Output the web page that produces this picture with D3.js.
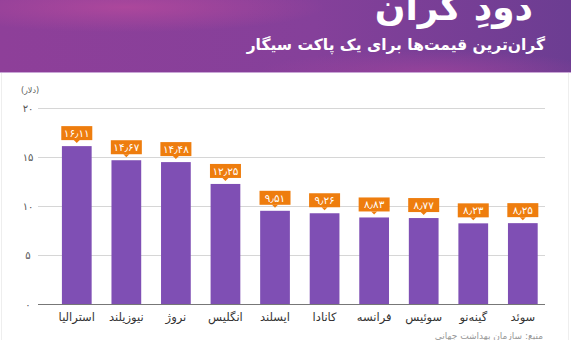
<!DOCTYPE html>
<html><head><meta charset="utf-8">
<script src="https://cdn.jsdelivr.net/npm/d3@7"></script>
<style>body{margin:0;background:#fff;}svg{display:block;font-family:"DejaVu Sans",sans-serif;}</style>
</head><body>
<svg id="c" width="571" height="340"></svg>
<script>
const categories = ["استرالیا","نیوزیلند","نروژ","انگلیس","ایسلند","کانادا","فرانسه","سوئیس","گینه‌نو","سوئد"];
const values = [16.11,14.67,14.48,12.25,9.51,9.26,8.83,8.77,8.23,8.25];
const yTicks = [0,5,10,15,20];
const title = "دودِ گران";
const subtitle = "گران‌ترین قیمت‌ها برای یک پاکت سیگار";
const unitLabel = "(دلار)";
const source = "منبع: سازمان بهداشت جهانی";

const fa = s => String(s).replace(/\d/g, d => "۰۱۲۳۴۵۶۷۸۹"[d]).replace(/\./g, "٫");
const svg = d3.select("#c");
const defs = svg.append("defs");
const lg = defs.append("linearGradient").attr("id","hg").attr("x1","0").attr("x2","1").attr("y1","0").attr("y2","0");
lg.append("stop").attr("offset","0").attr("stop-color","#8e3f99");
lg.append("stop").attr("offset","0.55").attr("stop-color","#85409a");
lg.append("stop").attr("offset","1").attr("stop-color","#6c3d92");
const rg = defs.append("radialGradient").attr("id","rh").attr("cx","0.22").attr("cy","0.1").attr("r","0.35");
rg.append("stop").attr("offset","0").attr("stop-color","#b0489c").attr("stop-opacity","0.9");
rg.append("stop").attr("offset","1").attr("stop-color","#b0489c").attr("stop-opacity","0");
const rg2 = defs.append("radialGradient").attr("id","rh2").attr("cx","0.75").attr("cy","1").attr("r","0.3");
rg2.append("stop").attr("offset","0").attr("stop-color","#a0449c").attr("stop-opacity","0.7");
rg2.append("stop").attr("offset","1").attr("stop-color","#a0449c").attr("stop-opacity","0");

svg.append("rect").attr("x",0).attr("y",0).attr("width",571).attr("height",72).attr("fill","url(#hg)");
svg.append("rect").attr("x",0).attr("y",0).attr("width",571).attr("height",72).attr("fill","url(#rh)");
svg.append("rect").attr("x",0).attr("y",0).attr("width",571).attr("height",72).attr("fill","url(#rh2)");
svg.append("line").attr("x1",0).attr("x2",571).attr("y1",72.5).attr("y2",72.5).attr("stroke","#c9a6d6").attr("stroke-width",1);

svg.append("text").attr("x",533).attr("y",20).attr("text-anchor","start").attr("direction","rtl")
  .attr("fill","#fff").attr("font-size",36).attr("font-weight","bold").text(title);
svg.append("text").attr("x",545).attr("y",50).attr("text-anchor","start").attr("direction","rtl")
  .attr("fill","#fff").attr("font-size",15.5).attr("font-weight","bold").text(subtitle);

// side borders
svg.append("line").attr("x1",1.5).attr("x2",1.5).attr("y1",73).attr("y2",340).attr("stroke","#eee");
svg.append("line").attr("x1",568.5).attr("x2",568.5).attr("y1",73).attr("y2",340).attr("stroke","#eee");

const y = d3.scaleLinear().domain([0,20]).range([304,108]);
const x = d3.scaleBand().domain(categories).range([52,547.6]).paddingInner(0.4).paddingOuter(0.2);

const grid = svg.append("g");
grid.selectAll("line").data(yTicks.filter(t=>t>0)).join("line")
  .attr("x1",38).attr("x2",545).attr("y1",d=>Math.round(y(d))+0.5).attr("y2",d=>Math.round(y(d))+0.5)
  .attr("stroke","#d6d6d6").attr("stroke-width",1);

const yAxis = d3.axisLeft(y).tickValues(yTicks).tickFormat(fa).tickSize(0);
const ya = svg.append("g").attr("transform","translate(33,0)").call(yAxis);
ya.select(".domain").remove();
ya.selectAll("text").attr("font-size",10).attr("fill","#555").attr("font-family","DejaVu Sans").attr("dx",0).attr("text-anchor","middle").attr("x",-5);

svg.append("text").attr("x",30).attr("y",93).attr("text-anchor","middle").attr("font-size",8).attr("fill","#555").text(unitLabel);

svg.append("g").selectAll("rect").data(values).join("rect")
  .attr("x",(d,i)=>x(categories[i])).attr("width",x.bandwidth())
  .attr("y",d=>y(d)).attr("height",d=>y(0)-y(d)).attr("fill","#7f4fb4");

svg.append("line").attr("x1",38).attr("x2",545).attr("y1",304.5).attr("y2",304.5).attr("stroke","#777").attr("stroke-width",1);

const lab = svg.append("g").selectAll("g").data(values).join("g")
  .attr("transform",(d,i)=>`translate(${x(categories[i])+x.bandwidth()/2},${y(d)-6})`);
lab.append("rect").attr("x",-15.5).attr("y",-14).attr("width",31).attr("height",14).attr("fill","#ee7d0e");
lab.append("path").attr("d","M-3,0 L3,0 L0,3 Z").attr("fill","#ee7d0e");
lab.append("text").attr("x",0).attr("y",-3).attr("text-anchor","middle").attr("fill","#fff").attr("font-size",10.5).text(d=>fa(d.toFixed(2)));

const xa = svg.append("g").attr("transform","translate(0,304)").call(d3.axisBottom(x).tickSize(0));
xa.select(".domain").remove();
xa.selectAll("text").attr("font-size",11.5).attr("fill","#333").attr("font-family","DejaVu Sans").attr("dy",0).attr("y",17);

svg.append("text").attr("x",543).attr("y",339).attr("text-anchor","start").attr("direction","rtl").attr("font-size",9).attr("fill","#999").text(source);
</script>
</body></html>
